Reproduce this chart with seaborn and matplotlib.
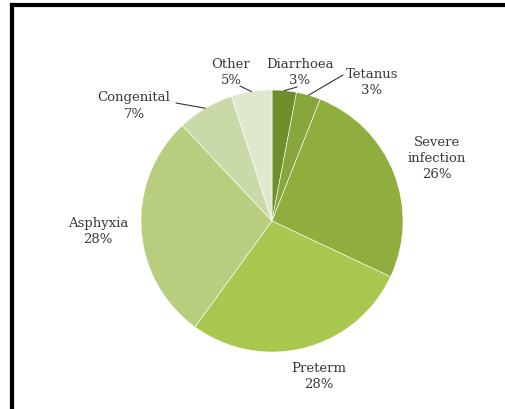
import numpy as np
import matplotlib
matplotlib.use('Agg')
import matplotlib.pyplot as plt
import seaborn as sns

# Causes of neonatal deaths (clockwise from 12 o'clock)
causes = ['Diarrhoea', 'Tetanus', 'Severe\ninfection', 'Preterm', 'Asphyxia', 'Congenital', 'Other']
shares = [3, 3, 26, 28, 28, 7, 5]
colors = ['#6f8f2c', '#87a63b', '#8fae3e', '#a9c74e', '#b8ce7e', '#cad9a8', '#dfe8cd']

sns.set_theme(style='white')
plt.rcParams['font.family'] = ['DejaVu Serif', 'Liberation Serif']

W, H = 506, 409
fig = plt.figure(figsize=(W / 100, H / 100), dpi=100)
ax = fig.add_axes([0, 0, 1, 1])

# pie centre / radius in pixel units (y measured from top)
cx, cy, r = 272, 221, 131

def py(y):
    return H - y

wedges, _ = ax.pie(shares, colors=colors, startangle=90, counterclock=False,
                   center=(cx, py(cy)), radius=r,
                   wedgeprops=dict(edgecolor='white', linewidth=0.4))

ax.set_xlim(0, W)
ax.set_ylim(0, H)
ax.set_aspect('equal')
ax.axis('off')

# label positions (pixel coords, text centre)
label_pos = [(300, 72), (372, 83), (437, 159), (319, 377), (98, 232), (134, 106), (231, 72)]
for cause, share, (lx, ly) in zip(causes, shares, label_pos):
    ax.text(lx, py(ly), f'{cause}\n{share}%', ha='center', va='center',
            fontsize=9.5, color='#3a3a3a', linespacing=1.3)

# leader lines: from label to the wedge edge
leaders = {0: (297, 87), 1: (343, 75), 5: (176, 103), 6: (240, 86)}
for i, (tx, ty) in leaders.items():
    w = wedges[i]
    ang = np.deg2rad((w.theta1 + w.theta2) / 2)
    ex, ey = cx + r * np.cos(ang), py(cy) + r * np.sin(ang)
    ax.plot([tx, ex], [py(ty), ey], color='#333333', lw=0.8)

# frame (only left / top edges visible)
ax.plot([12, 12], [py(5), -5], color='black', lw=3, clip_on=False, solid_capstyle='projecting')
ax.plot([12, W + 5], [py(5), py(5)], color='black', lw=3, clip_on=False, solid_capstyle='projecting')

fig.savefig('out.png', dpi=100, facecolor='white')
